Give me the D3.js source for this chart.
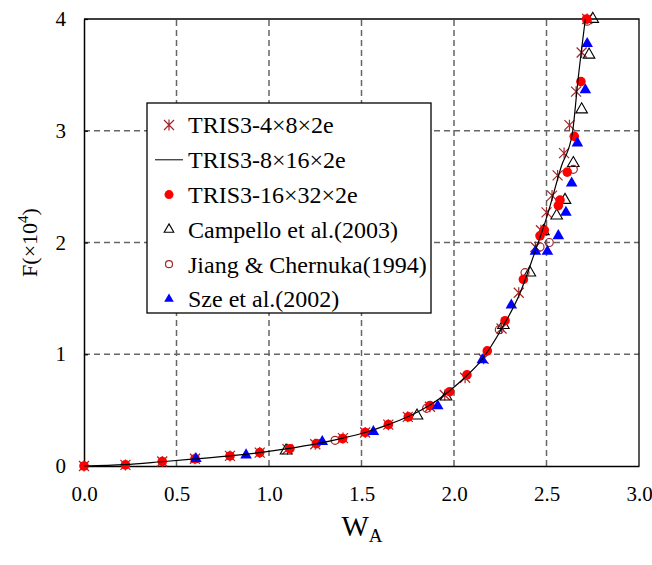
<!DOCTYPE html>
<html>
<head>
<meta charset="utf-8">
<script src="https://cdn.jsdelivr.net/npm/d3@7.9.0/dist/d3.min.js"></script>
<style>
  body { margin: 0; background: #fff; }
  svg { display: block; font-family: "Liberation Serif", "Times New Roman", serif; }
</style>
</head>
<body>
<div id="chart"></div>
<script>
// Values: [W_A, F (x10^4)]
const tris4x8 = [
  [0, 0], [0.224, 0.01], [0.423, 0.04], [0.60, 0.065], [0.789, 0.09], [0.95, 0.12],
  [1.10, 0.15], [1.25, 0.195], [1.40, 0.25], [1.52, 0.30], [1.645, 0.37], [1.75, 0.44],
  [1.87, 0.53], [1.95, 0.635], [2.06, 0.79], [2.16, 0.96], [2.257, 1.23], [2.35, 1.55],
  [2.44, 1.96], [2.47, 2.11], [2.50, 2.27], [2.53, 2.42], [2.56, 2.60], [2.595, 2.80],
  [2.624, 3.05], [2.66, 3.35], [2.69, 3.70], [2.72, 4.0]
];
const tris8x16 = [
  [0, 0], [0.22, 0.012], [0.42, 0.038], [0.6, 0.063], [0.8, 0.092], [0.95, 0.12],
  [1.1, 0.155], [1.26, 0.2], [1.4, 0.25], [1.52, 0.30], [1.645, 0.37], [1.75, 0.44],
  [1.87, 0.545], [1.97, 0.665], [2.07, 0.81], [2.14, 0.93], [2.265, 1.25], [2.36, 1.56],
  [2.43, 1.88], [2.5, 2.22], [2.58, 2.68], [2.64, 2.98], [2.67, 3.45], [2.71, 4.0]
];
const tris16x32 = [
  [0, 0], [0.224, 0.01], [0.423, 0.04], [0.60, 0.065], [0.789, 0.09], [0.95, 0.12],
  [1.113, 0.155], [1.256, 0.2], [1.398, 0.245], [1.52, 0.30], [1.645, 0.37], [1.753, 0.44],
  [1.87, 0.54], [1.977, 0.665], [2.07, 0.815], [2.18, 1.03], [2.276, 1.30], [2.375, 1.67],
  [2.465, 2.06], [2.488, 2.11], [2.564, 2.33], [2.573, 2.38], [2.612, 2.63], [2.65, 2.95],
  [2.686, 3.44], [2.717, 4.0]
];
const campello = [
  [1.092, 0.137], [1.80, 0.45], [1.957, 0.62], [2.267, 1.26], [2.41, 1.73], [2.483, 2.10],
  [2.555, 2.24], [2.60, 2.38], [2.645, 2.71], [2.69, 3.19], [2.73, 3.68], [2.75, 4.0]
];
const jiang = [
  [1.357, 0.23], [1.852, 0.516], [2.245, 1.22], [2.384, 1.73], [2.465, 1.96], [2.515, 2.0],
  [2.645, 2.655], [2.72, 3.98]
];
const sze = [
  [0.605, 0.065], [0.876, 0.098], [1.288, 0.217], [1.564, 0.307], [1.912, 0.537], [2.153, 0.95],
  [2.31, 1.44], [2.44, 1.92], [2.505, 1.92], [2.564, 2.06], [2.605, 2.27], [2.636, 2.53],
  [2.667, 2.89], [2.71, 3.365], [2.72, 3.78]
];
const xTicks = [0, 0.5, 1.0, 1.5, 2.0, 2.5, 3.0];
const yTicks = [0, 1, 2, 3, 4];
const legendLabels = [
  "TRIS3-4×8×2e", "TRIS3-8×16×2e", "TRIS3-16×32×2e",
  "Campello et al.(2003)", "Jiang & Chernuka(1994)", "Sze et al.(2002)"
];

const width = 652, height = 565;
const crossColor = "#a3262a";
const serif = "'Liberation Serif', 'Times New Roman', serif";

const svg = d3.select("#chart").append("svg")
  .attr("width", width).attr("height", height);

const x = d3.scaleLinear().domain([0, 3]).range([84, 639]);
const y = d3.scaleLinear().domain([0, 4]).range([466, 19]);

// dashed gridlines
const grid = svg.append("g").attr("stroke", "#666").attr("stroke-width", 1.5)
  .attr("stroke-dasharray", "6,4");
grid.selectAll("line.v").data(xTicks.slice(1, 6)).join("line")
  .attr("x1", d => x(d)).attr("x2", d => x(d))
  .attr("y1", y(0)).attr("y2", y(4));
grid.selectAll("line.h").data(yTicks.slice(1, 4)).join("line")
  .attr("x1", x(0)).attr("x2", x(3))
  .attr("y1", d => y(d)).attr("y2", d => y(d));

// axes
const xAxis = svg.append("g").attr("transform", `translate(0,${y(0)})`)
  .call(d3.axisBottom(x).tickValues(xTicks).tickFormat(d3.format(".1f")).tickSize(0).tickPadding(20));
const yAxis = svg.append("g").attr("transform", `translate(${x(0)},0)`)
  .call(d3.axisLeft(y).tickValues(yTicks).tickFormat(d3.format("d")).tickSizeInner(-4).tickSizeOuter(0).tickPadding(18));
[xAxis, yAxis].forEach(g => {
  g.attr("font-family", null);
  g.select(".domain").attr("stroke", "#000").attr("stroke-width", 1.5);
  g.selectAll(".tick line").attr("stroke", "#000").attr("stroke-width", 1.2);
  g.selectAll("text").style("font-family", serif).attr("font-size", 21).attr("fill", "#000");
});
xAxis.selectAll(".tick line").remove();
// top and right borders
svg.append("path")
  .attr("d", `M${x(0)},${y(4)}H${x(3)}V${y(0)}`)
  .attr("fill", "none").attr("stroke", "#000").attr("stroke-width", 1.3);

// axis titles
svg.append("text").attr("transform", `translate(37,${y(2)}) rotate(-90)`)
  .attr("text-anchor", "middle").attr("font-size", 22)
  .html('F(×10<tspan dy="-9" font-size="15">4</tspan><tspan dy="9">)</tspan>');
svg.append("text").attr("x", 362).attr("y", 536).attr("text-anchor", "middle").attr("font-size", 29)
  .html('W<tspan dy="6" font-size="19">A</tspan>');

// markers
function drawCross(sel) {
  sel.append("path").attr("d", "M-5,-5L5,5M-5,5L5,-5M0,-5.5L0,5.5")
    .attr("stroke", crossColor).attr("stroke-width", 1.2).attr("fill", "none");
}
const tri = d3.symbol().type(d3.symbolTriangle).size(58);
const triSmall = d3.symbol().type(d3.symbolTriangle).size(40);

const plot = svg.append("g");

plot.selectAll("g.cross").data(tris4x8).join("g")
  .attr("transform", d => `translate(${x(d[0])},${y(d[1])})`)
  .call(drawCross);

plot.selectAll("path.camp").data(campello).join("path")
  .attr("d", tri).attr("transform", d => `translate(${x(d[0])},${y(d[1])})`)
  .attr("fill", "none").attr("stroke", "#000").attr("stroke-width", 1.1);

plot.selectAll("circle.jiang").data(jiang).join("circle")
  .attr("cx", d => x(d[0])).attr("cy", d => y(d[1])).attr("r", 4)
  .attr("fill", "none").attr("stroke", crossColor).attr("stroke-width", 1.2);

plot.selectAll("circle.red").data(tris16x32).join("circle")
  .attr("cx", d => x(d[0])).attr("cy", d => y(d[1])).attr("r", 4.8)
  .attr("fill", "#ff0000");

plot.selectAll("path.sze").data(sze).join("path")
  .attr("d", tri).attr("transform", d => `translate(${x(d[0])},${y(d[1])})`)
  .attr("fill", "#0000ff");

plot.append("path").datum(tris8x16)
  .attr("d", d3.line().x(d => x(d[0])).y(d => y(d[1])).curve(d3.curveMonotoneX))
  .attr("fill", "none").attr("stroke", "#000").attr("stroke-width", 1.2);

// legend
const legend = svg.append("g");
legend.append("rect").attr("x", 147).attr("y", 103).attr("width", 284).attr("height", 210)
  .attr("fill", "#fff").attr("stroke", "#000").attr("stroke-width", 1.3);
const rowY = d3.scalePoint().domain(legendLabels).range([125, 299]);
const items = legend.selectAll("g.item").data(legendLabels).join("g")
  .attr("transform", d => `translate(169,${rowY(d)})`);
items.append("text").attr("x", 19).attr("dy", "0.35em").attr("font-size", 24).text(d => d);
items.each(function(d, i) {
  const g = d3.select(this);
  if (i === 0) drawCross(g);
  else if (i === 1) g.append("line").attr("x1", -14).attr("x2", 14).attr("stroke", "#000").attr("stroke-width", 1);
  else if (i === 2) g.append("circle").attr("r", 4.5).attr("fill", "#ff0000");
  else if (i === 3) g.append("path").attr("d", triSmall).attr("fill", "none").attr("stroke", "#000").attr("stroke-width", 1.1);
  else if (i === 4) g.append("circle").attr("r", 3.5).attr("fill", "none").attr("stroke", crossColor).attr("stroke-width", 1.2);
  else g.append("path").attr("d", triSmall).attr("fill", "#0000ff");
});
</script>
</body>
</html>
